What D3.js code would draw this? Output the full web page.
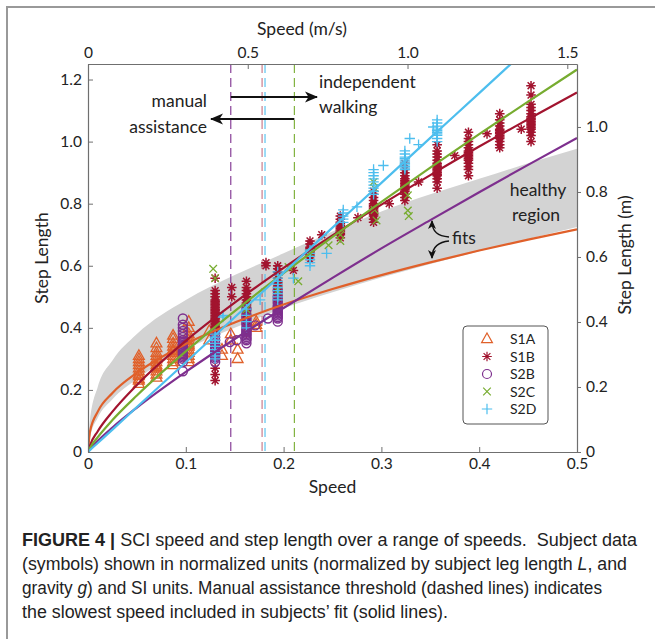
<!DOCTYPE html>
<html>
<head>
<meta charset="utf-8">
<script src="https://cdn.jsdelivr.net/npm/d3@7"></script>
<style>
  body { margin: 0; background: #fff; }
  svg { display: block; }
  .tick text { font-family: Lato, 'Open Sans', sans-serif; font-size: 15.5px; fill: #222; }
  .lbl { font-family: Lato, 'Open Sans', sans-serif; fill: #222; }
  .cap { white-space: pre; }
</style>
</head>
<body>
<div id="app"></div>
<script>
// ---- data ----
const subjects = ['S1A', 'S1B', 'S2B', 'S2C', 'S2D'];
const subjectColors = ['#e0602a', '#a2142f', '#7e2f8e', '#77ac30', '#4dbeee'];
const subjectSymbols = ['triangle', 'asterisk', 'circle', 'times', 'plus'];

// each entry: [speed, [step lengths at that speed]]
const s1aData = [
  [0.052, [0.22, 0.23, 0.235, 0.245, 0.25, 0.26, 0.27, 0.28, 0.29, 0.30, 0.31]],
  [0.070, [0.24, 0.25, 0.26, 0.27, 0.275, 0.28, 0.29, 0.30, 0.31, 0.32, 0.335, 0.35]],
  [0.087, [0.28, 0.29, 0.30, 0.31, 0.32, 0.325, 0.33, 0.34, 0.35, 0.365, 0.375]],
  [0.103, [0.29, 0.30, 0.31, 0.32, 0.33, 0.34, 0.345, 0.35, 0.36, 0.37, 0.38, 0.40, 0.42]],
  [0.124, [0.36, 0.39]],
  [0.137, [0.31, 0.33]],
  [0.146, [0.36, 0.38]],
  [0.153, [0.30, 0.33]],
  [0.172, [0.40, 0.41, 0.42]]
];
const s1bData = [
  [0.130, [0.23, 0.25, 0.27, 0.38, 0.39, 0.395, 0.40, 0.405, 0.41, 0.415, 0.42, 0.425, 0.43, 0.435, 0.44, 0.445, 0.45, 0.455, 0.46, 0.465, 0.47, 0.475, 0.48, 0.485, 0.49, 0.50, 0.51, 0.52, 0.56]],
  [0.147, [0.50, 0.53]],
  [0.162, [0.38, 0.40, 0.41, 0.415, 0.42, 0.425, 0.43, 0.435, 0.44, 0.445, 0.45, 0.455, 0.46, 0.465, 0.47, 0.475, 0.48, 0.49, 0.50, 0.51, 0.52, 0.53, 0.55]],
  [0.182, [0.60, 0.61]],
  [0.194, [0.45, 0.46, 0.47, 0.48, 0.485, 0.49, 0.495, 0.50, 0.505, 0.51, 0.515, 0.52, 0.525, 0.53, 0.535, 0.54, 0.545, 0.55, 0.56, 0.57, 0.58, 0.59, 0.60]],
  [0.210, [0.585]],
  [0.227, [0.62, 0.63, 0.635, 0.64, 0.645, 0.65, 0.655, 0.66, 0.67, 0.68]],
  [0.239, [0.70]],
  [0.258, [0.69, 0.70, 0.705, 0.71, 0.715, 0.72, 0.725, 0.73, 0.735, 0.74, 0.75, 0.76]],
  [0.276, [0.755]],
  [0.292, [0.74, 0.75, 0.76, 0.765, 0.77, 0.775, 0.78, 0.785, 0.79, 0.795, 0.80, 0.81, 0.82, 0.83, 0.84]],
  [0.308, [0.80]],
  [0.324, [0.81, 0.82, 0.83, 0.84, 0.845, 0.85, 0.855, 0.86, 0.865, 0.87, 0.875, 0.88, 0.89, 0.90, 0.91, 0.93]],
  [0.338, [0.87]],
  [0.357, [0.85, 0.87, 0.88, 0.89, 0.895, 0.90, 0.905, 0.91, 0.915, 0.92, 0.925, 0.93, 0.94, 0.95, 0.96, 0.97, 0.99]],
  [0.375, [0.955]],
  [0.389, [0.89, 0.91, 0.92, 0.93, 0.94, 0.945, 0.95, 0.955, 0.96, 0.965, 0.97, 0.98, 0.99, 1.00, 1.01, 1.03]],
  [0.408, [1.025]],
  [0.421, [0.98, 0.99, 1.00, 1.01, 1.015, 1.02, 1.025, 1.03, 1.035, 1.04, 1.05, 1.06, 1.07, 1.09]],
  [0.443, [1.04]],
  [0.453, [1.00, 1.02, 1.03, 1.04, 1.045, 1.05, 1.055, 1.06, 1.065, 1.07, 1.075, 1.08, 1.09, 1.10, 1.11, 1.12, 1.15, 1.18]]
];
const s2bData = [
  [0.097, [0.26, 0.29, 0.30, 0.305, 0.31, 0.315, 0.32, 0.325, 0.33, 0.335, 0.34, 0.345, 0.35, 0.355, 0.36, 0.37, 0.38, 0.39, 0.40, 0.41, 0.43]],
  [0.130, [0.29, 0.30, 0.305, 0.31, 0.315, 0.32, 0.325, 0.33, 0.335, 0.34, 0.35, 0.36, 0.37, 0.38]],
  [0.145, [0.354]],
  [0.152, [0.36]],
  [0.162, [0.35, 0.36, 0.365, 0.37, 0.375, 0.38, 0.385, 0.39, 0.395, 0.40, 0.41, 0.42, 0.43, 0.44, 0.46]],
  [0.171, [0.408]],
  [0.184, [0.43]],
  [0.194, [0.42, 0.43, 0.435, 0.44, 0.445, 0.45, 0.455, 0.46, 0.465, 0.47, 0.48, 0.49, 0.50, 0.52]]
];
const s2cData = [
  [0.128, [0.59]], [0.130, [0.56]], [0.162, [0.46]], [0.194, [0.52]],
  [0.205, [0.596]], [0.215, [0.55]], [0.227, [0.64]], [0.246, [0.666]],
  [0.258, [0.68, 0.70]], [0.292, [0.87]], [0.293, [0.78, 0.85]], [0.295, [0.746]],
  [0.327, [0.778, 0.827]], [0.328, [0.76]]
];
const s2dData = [
  [0.130, [0.30, 0.31, 0.32, 0.33, 0.34, 0.35, 0.36, 0.37, 0.38]],
  [0.138, [0.435, 0.44]],
  [0.162, [0.40, 0.42, 0.44, 0.46]],
  [0.176, [0.49]],
  [0.194, [0.49, 0.50, 0.51, 0.52, 0.53, 0.54, 0.55, 0.56, 0.57, 0.58]],
  [0.210, [0.56]],
  [0.227, [0.60, 0.61, 0.62, 0.63, 0.64, 0.65]],
  [0.244, [0.64]],
  [0.261, [0.74, 0.75, 0.76, 0.77, 0.78]],
  [0.275, [0.79]],
  [0.292, [0.83, 0.84, 0.85, 0.86, 0.87, 0.88, 0.89, 0.90, 0.91]],
  [0.302, [0.923]],
  [0.324, [0.91, 0.915, 0.92, 0.925, 0.93, 0.935, 0.94, 0.945, 0.95, 0.96, 0.97]],
  [0.329, [1.01]],
  [0.338, [0.99]],
  [0.353, [1.047]],
  [0.357, [1.00, 1.01, 1.02, 1.025, 1.03, 1.035, 1.04, 1.05, 1.06, 1.07]]
];
const subjectData = [s1aData, s1bData, s2bData, s2cData, s2dData];

// fitted curves (solid lines), read at these speeds
const fitSpeeds = [0, 0.002, 0.01, 0.025, 0.05, 0.1, 0.15, 0.2, 0.25, 0.3, 0.35, 0.4, 0.45, 0.5];
const fitS1A = [0, 0.065, 0.13, 0.19, 0.255, 0.348, 0.417, 0.475, 0.525, 0.570, 0.611, 0.649, 0.684, 0.717];
const fitS1B = [0, 0.021, 0.067, 0.130, 0.216, 0.358, 0.481, 0.593, 0.698, 0.797, 0.892, 0.984, 1.072, 1.158];
const fitS2B = [0, 0.009, 0.036, 0.079, 0.143, 0.258, 0.364, 0.464, 0.561, 0.656, 0.747, 0.837, 0.925, 1.012];
const fitS2C = [0, 0.013, 0.048, 0.103, 0.182, 0.324, 0.454, 0.576, 0.693, 0.806, 0.916, 1.024, 1.129, 1.232];
const fitS2D = [0, 0.006, 0.029, 0.072, 0.145, 0.289, 0.434, 0.578, 0.723, 0.867, 1.012, 1.156, 1.301, 1.445];
const fitValues = [fitS1A, fitS1B, fitS2B, fitS2C, fitS2D];

// healthy region band
const bandUpper = [0, 0.10, 0.21, 0.295, 0.38, 0.49, 0.57, 0.64, 0.71, 0.775, 0.83, 0.88, 0.93, 0.977];
const bandLower = [0, 0.045, 0.11, 0.17, 0.235, 0.33, 0.40, 0.463, 0.515, 0.562, 0.606, 0.647, 0.686, 0.725];

// manual assistance thresholds (dashed)
const thresholdSpeeds = [0.146, 0.178, 0.181, 0.211];
const thresholdSubject = [2, 1, 4, 3];

// axes
const speedTicks = [0, 0.1, 0.2, 0.3, 0.4, 0.5];
const stepTicks = [0, 0.2, 0.4, 0.6, 0.8, 1.0, 1.2];
const speedMsTicks = [0, 0.5, 1.0, 1.5];
const stepMTicks = [0, 0.2, 0.4, 0.6, 0.8, 1.0];
const legLength = 0.955, gravity = 9.81;

const captionLines = [
  [['b', 'FIGURE 4 | '], ['n', 'SCI speed and step length over a range of speeds.  Subject data']],
  [['n', '(symbols) shown in normalized units (normalized by subject leg length '], ['i', 'L'], ['n', ', and']],
  [['n', 'gravity '], ['i', 'g'], ['n', ') and SI units. Manual assistance threshold (dashed lines) indicates']],
  [['n', 'the slowest speed included in subjects\u2019 fit (solid lines).']]
];
const captionWidths = [615, 605, 580, 426];

// ---- drawing ----
const width = 655, height = 639;
const pLeft = 88, pRight = 577, pTop = 64, pBottom = 452;

const svg = d3.select('#app').append('svg').attr('width', width).attr('height', height);

const x = d3.scaleLinear().domain([0, 0.5]).range([pLeft, pRight]);
const y = d3.scaleLinear().domain([0, 1.25]).range([pBottom, pTop]);
const xTop = d3.scaleLinear().domain([0, 0.5 * Math.sqrt(gravity * legLength)]).range([pLeft, pRight]);
const yRight = d3.scaleLinear().domain([0, 1.25 * legLength]).range([pBottom, pTop]);

const fmt = d => d === 0 ? '0' : d.toFixed(1);

// outer frame
svg.append('path').attr('d', `M7,${height}V7H${width}`).attr('fill', 'none')
  .attr('stroke', '#999').attr('stroke-width', 2);

const defs = svg.append('defs');
defs.append('clipPath').attr('id', 'plotclip').append('rect')
  .attr('x', pLeft).attr('y', pTop).attr('width', pRight - pLeft).attr('height', pBottom - pTop);

defs.append('marker')
  .attr('id', 'arrowhead')
  .attr('markerUnits', 'userSpaceOnUse')
  .attr('markerWidth', 14).attr('markerHeight', 14)
  .attr('viewBox', '0 0 14 14')
  .attr('refX', 12).attr('refY', 7)
  .attr('orient', 'auto')
  .append('path').attr('d', 'M0,1.5 L13,7 L0,12.5 L3.5,7 Z').attr('fill', '#111');

defs.append('marker')
  .attr('id', 'arrowsmall')
  .attr('markerUnits', 'userSpaceOnUse')
  .attr('markerWidth', 10).attr('markerHeight', 10)
  .attr('viewBox', '0 0 10 10')
  .attr('refX', 8).attr('refY', 5)
  .attr('orient', 'auto')
  .append('path').attr('d', 'M0,1 L9,5 L0,9 L2.5,5 Z').attr('fill', '#111');

const plot = svg.append('g').attr('clip-path', 'url(#plotclip)');

// healthy region
const bandData = fitSpeeds.map((s, i) => ({ s: s, lo: bandLower[i], hi: bandUpper[i] }));
plot.append('path').datum(bandData)
  .attr('d', d3.area().x(d => x(d.s)).y0(d => y(d.lo)).y1(d => y(d.hi)).curve(d3.curveMonotoneX))
  .attr('fill', '#d3d3d3');

// thresholds
plot.selectAll('.thr').data(thresholdSpeeds).enter().append('line')
  .attr('class', 'thr')
  .attr('x1', d => x(d)).attr('x2', d => x(d))
  .attr('y1', pTop).attr('y2', pBottom)
  .attr('stroke', (d, i) => subjectColors[thresholdSubject[i]])
  .attr('stroke-opacity', (d, i) => thresholdSubject[i] === 1 ? 0.6 : 1)
  .attr('stroke-width', 1.1)
  .attr('stroke-dasharray', '9,5');

// markers
const symbolPaths = {
  triangle: 'M0,-6L5.4,3.6L-5.4,3.6Z',
  asterisk: 'M-4.8,0H4.8M0,-4.8V4.8M-3.4,-3.4L3.4,3.4M-3.4,3.4L3.4,-3.4',
  circle: 'M4.5,0A4.5,4.5 0 1,1 -4.5,0A4.5,4.5 0 1,1 4.5,0Z',
  times: 'M-3.8,-3.8L3.8,3.8M-3.8,3.8L3.8,-3.8',
  plus: 'M-5.2,0H5.2M0,-5.2V5.2'
};
const symbolStroke = [1.3, 1.5, 1.4, 1.3, 1.3];

subjectData.forEach((clusters, si) => {
  const pts = [];
  clusters.forEach(c => c[1].forEach(v => pts.push({ s: c[0], v: v })));
  plot.append('g').selectAll('path').data(pts).enter().append('path')
    .attr('transform', d => `translate(${x(d.s)},${y(d.v)})`)
    .attr('d', symbolPaths[subjectSymbols[si]])
    .attr('fill', 'none')
    .attr('stroke', subjectColors[si])
    .attr('stroke-width', symbolStroke[si]);
});

// fit lines
const fitLine = d3.line().x(d => x(d[0])).y(d => y(d[1])).curve(d3.curveMonotoneX);
fitValues.forEach((vals, si) => {
  plot.append('path')
    .datum(fitSpeeds.map((s, i) => [s, vals[i]]))
    .attr('d', fitLine)
    .attr('fill', 'none')
    .attr('stroke', subjectColors[si])
    .attr('stroke-width', 2.2);
});

// axes
const axisColor = '#6f6f6f';
function styleAxis(g) {
  g.selectAll('.domain').attr('stroke', axisColor).attr('stroke-width', 1.2);
  g.selectAll('.tick line').attr('stroke', axisColor).attr('stroke-width', 1);
}
svg.append('g').attr('transform', `translate(0,${pBottom})`)
  .call(d3.axisBottom(x).tickValues(speedTicks).tickFormat(fmt).tickSizeInner(-5).tickSizeOuter(0).tickPadding(6))
  .call(styleAxis);
svg.append('g').attr('transform', `translate(0,${pTop})`)
  .call(d3.axisTop(xTop).tickValues(speedMsTicks).tickFormat(fmt).tickSizeInner(-5).tickSizeOuter(0).tickPadding(6))
  .call(styleAxis);
svg.append('g').attr('transform', `translate(${pLeft},0)`)
  .call(d3.axisLeft(y).tickValues(stepTicks).tickFormat(fmt).tickSizeInner(-5).tickSizeOuter(0).tickPadding(6))
  .call(styleAxis);
svg.append('g').attr('transform', `translate(${pRight},0)`)
  .call(d3.axisRight(yRight).tickValues(stepMTicks).tickFormat(fmt).tickSizeInner(4).tickSizeOuter(0).tickPadding(5))
  .call(styleAxis);

// axis titles
svg.append('text').attr('class', 'lbl').attr('x', 302).attr('y', 35)
  .attr('text-anchor', 'middle').attr('font-size', 17.5).text('Speed (m/s)');
svg.append('text').attr('class', 'lbl').attr('x', (pLeft + pRight) / 2).attr('y', 493)
  .attr('text-anchor', 'middle').attr('font-size', 17.5).text('Speed');
svg.append('text').attr('class', 'lbl')
  .attr('transform', 'translate(48,258) rotate(-90)')
  .attr('text-anchor', 'middle').attr('font-size', 17.5).text('Step Length');
svg.append('text').attr('class', 'lbl')
  .attr('transform', 'translate(631,255) rotate(-90)')
  .attr('text-anchor', 'middle').attr('font-size', 17.5).text('Step Length (m)');

// annotations
const ann = svg.append('g').attr('class', 'lbl').attr('font-size', 17.5);
ann.append('text').attr('x', 319).attr('y', 88).text('independent');
ann.append('text').attr('x', 319).attr('y', 113).text('walking');
ann.append('text').attr('x', 207).attr('y', 107).attr('text-anchor', 'end').text('manual');
ann.append('text').attr('x', 207).attr('y', 133).attr('text-anchor', 'end').text('assistance');
ann.append('text').attr('x', 538).attr('y', 196).attr('text-anchor', 'middle').text('healthy');
ann.append('text').attr('x', 536).attr('y', 221).attr('text-anchor', 'middle').text('region');
ann.append('text').attr('x', 452).attr('y', 244).text('fits');

svg.append('line').attr('x1', x(thresholdSpeeds[0])).attr('x2', 317).attr('y1', 97).attr('y2', 97)
  .attr('stroke', '#111').attr('stroke-width', 1.8).attr('marker-end', 'url(#arrowhead)');
svg.append('line').attr('x1', x(thresholdSpeeds[3])).attr('x2', 211).attr('y1', 119).attr('y2', 119)
  .attr('stroke', '#111').attr('stroke-width', 1.8).attr('marker-end', 'url(#arrowhead)');

svg.append('path').attr('d', 'M449,237 C438,236 432,232 432,221')
  .attr('fill', 'none').attr('stroke', '#111').attr('stroke-width', 1.4).attr('marker-end', 'url(#arrowsmall)');
svg.append('path').attr('d', 'M449,241 C438,242 432,247 432,258')
  .attr('fill', 'none').attr('stroke', '#111').attr('stroke-width', 1.4).attr('marker-end', 'url(#arrowsmall)');

// legend
const legend = svg.append('g').attr('transform', 'translate(463,326)');
legend.append('rect').attr('width', 85).attr('height', 98).attr('rx', 4)
  .attr('fill', '#fff').attr('stroke', '#555').attr('stroke-width', 1);
subjects.forEach((name, i) => {
  const row = legend.append('g').attr('transform', `translate(0,${13 + i * 17.5})`);
  row.append('path').attr('transform', 'translate(24,0)')
    .attr('d', symbolPaths[subjectSymbols[i]]).attr('fill', 'none')
    .attr('stroke', subjectColors[i]).attr('stroke-width', 1.2);
  row.append('text').attr('class', 'lbl').attr('x', 47).attr('dy', '0.36em')
    .attr('font-size', 14).text(name);
});

// caption
captionLines.forEach((parts, li) => {
  const t = svg.append('text').attr('class', 'cap').attr('x', 22).attr('y', 546 + li * 24)
    .attr('font-size', 17.5).attr('fill', '#222')
    .attr('font-family', "'Liberation Sans Narrow', 'Arial Narrow', 'Liberation Sans', sans-serif")
    .attr('textLength', captionWidths[li]).attr('lengthAdjust', 'spacingAndGlyphs');
  parts.forEach(p => {
    const ts = t.append('tspan').text(p[1]);
    if (p[0] === 'b') ts.attr('font-weight', 'bold').attr('font-family', "'Liberation Sans', Arial, sans-serif");
    if (p[0] === 'i') ts.attr('font-style', 'italic');
  });
});
</script>
</body>
</html>
